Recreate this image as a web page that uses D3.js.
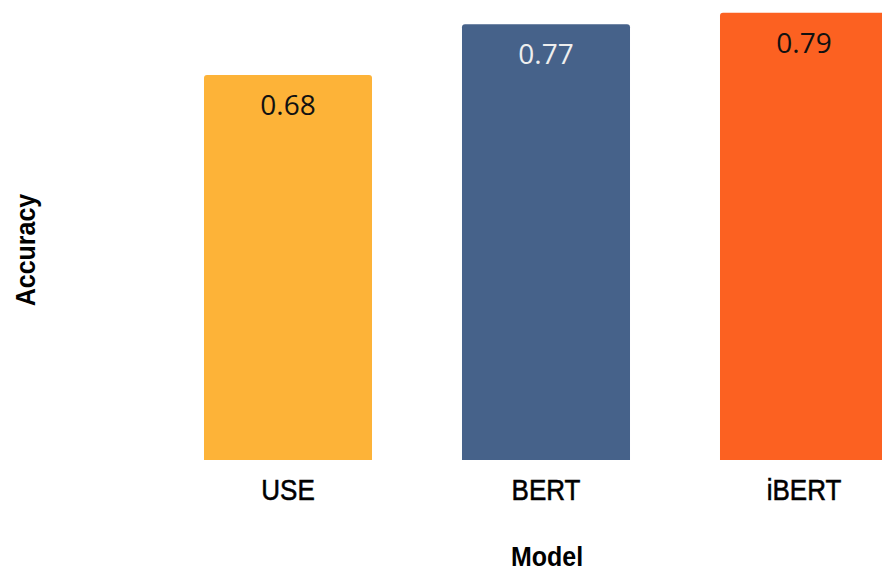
<!DOCTYPE html>
<html>
<head>
<meta charset="utf-8">
<script src="https://cdn.jsdelivr.net/npm/d3@7"></script>
<style>
  html, body { margin: 0; padding: 0; background: #fff; overflow: hidden; }
  svg { display: block; }
</style>
</head>
<body>
<svg id="chart" width="882" height="573"></svg>
<script>
// Model accuracy comparison
const models = ["USE", "BERT", "iBERT"];
const accuracy = [0.68, 0.77, 0.79];
const barColors = ["#FDB338", "#46628A", "#FC6121"];
const labelColors = ["#111111", "#EEEEEE", "#111111"];

const svg = d3.select("#chart");

const x = d3.scaleBand()
  .domain(models)
  .range([159, 933])
  .paddingInner(0.3488)
  .paddingOuter(0.1744);

const y = d3.scaleLinear()
  .domain([0, 0.8127])
  .range([460, 0]);

const r = 3;
function barPath(x0, w, yTop, yBase) {
  return `M${x0},${yBase}V${yTop + r}Q${x0},${yTop} ${x0 + r},${yTop}` +
         `H${x0 + w - r}Q${x0 + w},${yTop} ${x0 + w},${yTop + r}V${yBase}Z`;
}

const data = models.map((m, i) => ({ model: m, value: accuracy[i], color: barColors[i], lc: labelColors[i] }));

svg.append("g").selectAll("path")
  .data(data)
  .join("path")
  .attr("d", d => barPath(x(d.model), x.bandwidth(), y(d.value), y(0)))
  .attr("fill", d => d.color);

svg.append("g").selectAll("text")
  .data(data)
  .join("text")
  .attr("x", d => x(d.model) + x.bandwidth() / 2)
  .attr("y", d => y(d.value) + 40)
  .attr("text-anchor", "middle")
  .attr("font-family", "'Open Sans', 'Noto Sans', sans-serif")
  .attr("font-size", 28)
  .attr("fill", d => d.lc)
  .text(d => d3.format(".2f")(d.value));

// Category axis (labels only, no line or ticks)
const xAxis = svg.append("g")
  .attr("transform", `translate(0,${y(0)})`)
  .call(d3.axisBottom(x).tickSize(0));
xAxis.select(".domain").remove();
xAxis.selectAll("text")
  .attr("y", 0)
  .attr("dy", 0)
  .attr("transform", "translate(0,40) scale(1,1.12)")
  .attr("font-family", "'Liberation Sans', Arial, sans-serif")
  .attr("font-size", 26)
  .attr("fill", "#000")
  .attr("stroke", "#000")
  .attr("stroke-width", 0.5);

svg.append("text")
  .attr("transform", "translate(547,566) scale(1,1.12)")
  .attr("text-anchor", "middle")
  .attr("font-family", "'Liberation Sans', Arial, sans-serif")
  .attr("font-weight", "bold")
  .attr("font-size", 25)
  .attr("fill", "#000")
  .text("Model");

svg.append("text")
  .attr("transform", "translate(35,250) rotate(-90) scale(1,1.12)")
  .attr("text-anchor", "middle")
  .attr("font-family", "'Liberation Sans', Arial, sans-serif")
  .attr("font-weight", "bold")
  .attr("font-size", 25)
  .attr("fill", "#000")
  .text("Accuracy");
</script>
</body>
</html>
